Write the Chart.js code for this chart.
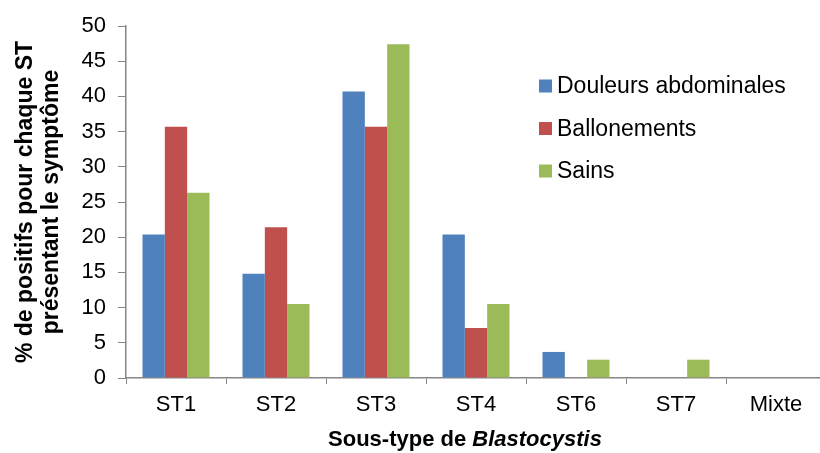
<!DOCTYPE html>
<html>
<head>
<meta charset="utf-8">
<script src="https://cdn.jsdelivr.net/npm/chart.js@4"></script>
<style>
  html, body { margin: 0; padding: 0; background: #fff; overflow: hidden; }
  #wrap { width: 830px; height: 453px; position: relative; }
</style>
</head>
<body>
<div id="wrap"><canvas id="chart"></canvas></div>
<script>
// --- DATA ---
const categories = ['ST1', 'ST2', 'ST3', 'ST4', 'ST6', 'ST7', 'Mixte'];
const douleurs = [20.4, 14.8, 40.7, 20.4, 3.7, 0, 0];
const ballonements = [35.7, 21.4, 35.7, 7.1, 0, 0, 0];
const sains = [26.3, 10.5, 47.4, 10.5, 2.6, 2.6, 0];
const seriesNames = ['Douleurs abdominales', 'Ballonements', 'Sains'];
const yTitle = ['% de positifs pour chaque ST', 'présentant le symptôme'];

const FONT = "'Liberation Sans', Arial, sans-serif";
const AXIS = '#868686';
const colors = ['#4f81bd', '#c0504d', '#9bbb59'];

// axis titles + legend drawn by hand (mixed italic, legend inside plot)
const decorations = {
  id: 'decorations',
  afterDraw(chart) {
    const ctx = chart.ctx;
    const area = chart.chartArea;
    ctx.save();
    ctx.fillStyle = '#000';

    // y title, two rotated lines
    ctx.font = 'bold 23px ' + FONT;
    ctx.textAlign = 'center';
    ctx.textBaseline = 'alphabetic';
    ctx.translate(0, (area.top + area.bottom) / 2);
    ctx.rotate(-Math.PI / 2);
    ctx.fillText(yTitle[0], 0, 32);
    ctx.fillText(yTitle[1], 0, 58);
    ctx.setTransform(1, 0, 0, 1, 0, 0);

    // x title with italic genus name
    const a = 'Sous-type de ', b = 'Blastocystis';
    ctx.textAlign = 'left';
    ctx.font = 'bold 22px ' + FONT;
    const wa = ctx.measureText(a).width;
    ctx.font = 'italic bold 22px ' + FONT;
    const wb = ctx.measureText(b).width;
    const x0 = 465 - (wa + wb) / 2;
    ctx.font = 'bold 22px ' + FONT;
    ctx.fillText(a, x0, 446);
    ctx.font = 'italic bold 22px ' + FONT;
    ctx.fillText(b, x0 + wa, 446);

    // legend
    ctx.font = '23px ' + FONT;
    ctx.textBaseline = 'middle';
    chart.data.datasets.forEach((ds, i) => {
      const cy = 86 + i * 42.5;
      ctx.fillStyle = ds.backgroundColor;
      ctx.fillRect(539, cy - 6.5, 13, 13);
      ctx.fillStyle = '#000';
      ctx.fillText(ds.label, 557, cy + 1);
    });
    ctx.restore();
  }
};

const ctx = document.getElementById('chart').getContext('2d');
new Chart(ctx, {
  type: 'bar',
  data: {
    labels: categories,
    datasets: [douleurs, ballonements, sains].map((d, i) => ({
      label: seriesNames[i],
      data: d,
      backgroundColor: colors[i],
      borderWidth: 0,
      categoryPercentage: 0.67,
      barPercentage: 1.0,
    }))
  },
  options: {
    responsive: true,
    maintainAspectRatio: false,
    animation: false,
    layout: { padding: { top: 26, right: 4, left: 0, bottom: 0 } },
    plugins: { legend: { display: false }, tooltip: { enabled: false } },
    scales: {
      x: {
        afterFit: s => { s.height = 75; },
        grid: { offset: true, drawOnChartArea: false, drawTicks: true, tickLength: 6, color: AXIS },
        border: { color: AXIS, width: 1.5 },
        ticks: { color: '#000', padding: 8, font: { family: FONT, size: 22 } }
      },
      y: {
        min: 0, max: 50,
        afterFit: s => { s.width = 126; },
        grid: { drawOnChartArea: false, drawTicks: true, tickLength: 8, color: AXIS },
        border: { color: AXIS, width: 1.5 },
        ticks: { stepSize: 5, color: '#000', padding: 12, font: { family: FONT, size: 22 } }
      }
    }
  },
  plugins: [decorations]
});
</script>
</body>
</html>
